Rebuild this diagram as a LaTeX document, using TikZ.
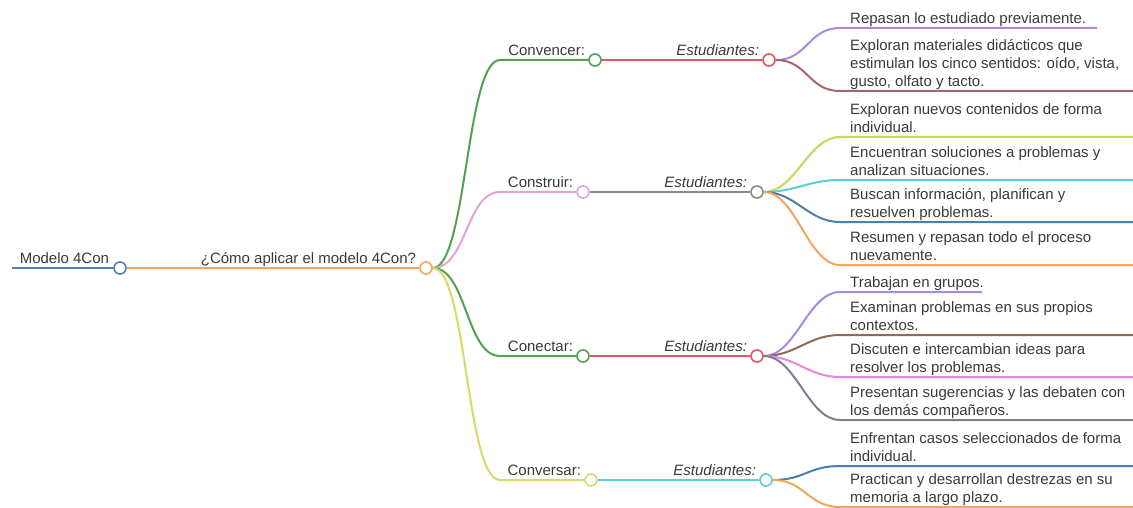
\documentclass[tikz,border=0pt]{standalone}
\usepackage{fontspec}
\setmainfont{Liberation Sans}
\usetikzlibrary{calc}
\definecolor{txt}{HTML}{3A3A3A}
\definecolor{cblue}{HTML}{4F81BD}
\definecolor{corange}{HTML}{F2A55C}
\definecolor{cgreen}{HTML}{52A152}
\definecolor{cpink}{HTML}{E3A2DA}
\definecolor{cyellow}{HTML}{D6DA68}
\definecolor{cred}{HTML}{E0575F}
\definecolor{cgray}{HTML}{8A8A8A}
\definecolor{ccyan}{HTML}{5CCFD6}
\definecolor{cpurple}{HTML}{A98BD9}
\definecolor{cbrown}{HTML}{A5686A}
\definecolor{cygreen}{HTML}{C5D85A}
\definecolor{cblue2}{HTML}{4A7FB0}
\definecolor{cmag}{HTML}{E08AE0}
\definecolor{cbrown2}{HTML}{8F6A5A}
\definecolor{cgray2}{HTML}{7F7F8F}
\tikzset{
  dot/.style={circle, draw=#1, fill=white, minimum size=12pt, inner sep=0pt, line width=1.6pt},
  lbl/.style={font=\fontsize{15}{18}\selectfont, text=txt, inner sep=0pt},
  ilbl/.style={lbl, font=\fontsize{15}{18}\selectfont\itshape},
  leaf/.style={lbl, align=left, anchor=base west},
  conn/.style={line width=2pt, draw=#1},
}
\newcommand{\lk}[4]{% from, to-start, to-end, color
  \draw[conn=#4] (#1.east) .. controls +(32,0) and +(-32,0) .. (#2) -- (#3);}
\begin{document}
\begin{tikzpicture}[x=1pt,y=-1pt]
\useasboundingbox (0,0) rectangle (1133,508);
% root
\coordinate (r0) at (12,268);
\node[dot=cblue] (r) at (120,268) {};
\node[dot=corange] (q) at (426,268) {};
\draw[conn=cblue] (r0) -- (r.west);
\draw[conn=corange] (r.east) -- (q.west);
\node[lbl, anchor=base east] (rt) at ([xshift=-4pt,yshift=4.5pt]r.west) {Modelo 4Con};
\node[lbl, anchor=base east] (qt) at ([xshift=-3pt,yshift=4.5pt]q.west) {¿Cómo aplicar el modelo 4Con?};
% level 2
\node[dot=cgreen] (a) at (595,60) {};
\node[dot=cpink] (b) at (583,192) {};
\node[dot=cgreen] (c) at (583,356) {};
\node[dot=cyellow] (d) at (591,480) {};
\coordinate (as) at (500,60);
\coordinate (bs) at (500,192);
\coordinate (cs) at (500,356);
\coordinate (ds) at (500,480);
\draw[conn=cgreen] (q.east) .. controls +(34,0) and +(-34,0) .. (as) -- (a.west);
\draw[conn=cpink] (q.east) .. controls +(34,0) and +(-34,0) .. (bs) -- (b.west);
\draw[conn=cgreen] (q.east) .. controls +(34,0) and +(-34,0) .. (cs) -- (c.west);
\draw[conn=cyellow] (q.east) .. controls +(34,0) and +(-34,0) .. (ds) -- (d.west);
\node[lbl, anchor=base east] (at) at ([xshift=-3pt,yshift=4.5pt]a.west) {Convencer:};
\node[lbl, anchor=base east] (bt) at ([xshift=-3pt,yshift=4.5pt]b.west) {Construir:};
\node[lbl, anchor=base east] (ct) at ([xshift=-3pt,yshift=4.5pt]c.west) {Conectar:};
\node[lbl, anchor=base east] (dt) at ([xshift=-3pt,yshift=4.5pt]d.west) {Conversar:};
% level 3
\node[dot=cred] (ae) at (769,60) {};
\node[dot=cgray] (be) at (757,192) {};
\node[dot=cred] (ce) at (757,356) {};
\node[dot=ccyan] (de) at (766,480) {};
\draw[conn=cred] (a.east) -- (ae.west);
\draw[conn=cgray] (b.east) -- (be.west);
\draw[conn=cred] (c.east) -- (ce.west);
\draw[conn=ccyan] (d.east) -- (de.west);
\node[ilbl, anchor=base east] (aet) at ([xshift=-3pt,yshift=4.5pt]ae.west) {Estudiantes:};
\node[ilbl, anchor=base east] (bet) at ([xshift=-3pt,yshift=4.5pt]be.west) {Estudiantes:};
\node[ilbl, anchor=base east] (cet) at ([xshift=-3pt,yshift=4.5pt]ce.west) {Estudiantes:};
\node[ilbl, anchor=base east] (det) at ([xshift=-3pt,yshift=4.5pt]de.west) {Estudiantes:};
% leaves: Convencer
\coordinate (a1s) at (840,28); \coordinate (a1e) at (1097,28);
\coordinate (a2s) at (840,91); \coordinate (a2e) at (1133,91);
\lk{ae}{a1s}{a1e}{cpurple}
\lk{ae}{a2s}{a2e}{cbrown}
\node[leaf] (a1) at (850,23.5) {Repasan lo estudiado previamente.};
\node[leaf] (a2) at (850,86.5) {Exploran materiales didácticos que\\estimulan los cinco sentidos: oído, vista,\\gusto, olfato y tacto.};
% leaves: Construir
\coordinate (b1s) at (840,137); \coordinate (b1e) at (1133,137);
\coordinate (b2s) at (840,180); \coordinate (b2e) at (1133,180);
\coordinate (b3s) at (840,222); \coordinate (b3e) at (1133,222);
\coordinate (b4s) at (840,265); \coordinate (b4e) at (1133,265);
\lk{be}{b1s}{b1e}{cygreen}
\lk{be}{b2s}{b2e}{ccyan}
\lk{be}{b3s}{b3e}{cblue2}
\lk{be}{b4s}{b4e}{corange}
\node[leaf] (b1) at (850,132.5) {Exploran nuevos contenidos de forma\\individual.};
\node[leaf] (b2) at (850,175.5) {Encuentran soluciones a problemas y\\analizan situaciones.};
\node[leaf] (b3) at (850,217.5) {Buscan información, planifican y\\resuelven problemas.};
\node[leaf] (b4) at (850,260.5) {Resumen y repasan todo el proceso\\nuevamente.};
% leaves: Conectar
\coordinate (c1s) at (840,292); \coordinate (c1e) at (982,292);
\coordinate (c2s) at (840,335); \coordinate (c2e) at (1133,335);
\coordinate (c3s) at (840,377); \coordinate (c3e) at (1133,377);
\coordinate (c4s) at (840,420); \coordinate (c4e) at (1133,420);
\lk{ce}{c1s}{c1e}{cpurple}
\lk{ce}{c2s}{c2e}{cbrown2}
\lk{ce}{c3s}{c3e}{cmag}
\lk{ce}{c4s}{c4e}{cgray2}
\node[leaf] (c1) at (850,287.5) {Trabajan en grupos.};
\node[leaf] (c2) at (850,330.5) {Examinan problemas en sus propios\\contextos.};
\node[leaf] (c3) at (850,372.5) {Discuten e intercambian ideas para\\resolver los problemas.};
\node[leaf] (c4) at (850,415.5) {Presentan sugerencias y las debaten con\\los demás compañeros.};
% leaves: Conversar
\coordinate (d1s) at (840,466); \coordinate (d1e) at (1133,466);
\coordinate (d2s) at (840,507); \coordinate (d2e) at (1133,507);
\lk{de}{d1s}{d1e}{cblue2}
\lk{de}{d2s}{d2e}{corange}
\node[leaf] (d1) at (850,461.5) {Enfrentan casos seleccionados de forma\\individual.};
\node[leaf] (d2) at (850,502.5) {Practican y desarrollan destrezas en su\\memoria a largo plazo.};
\end{tikzpicture}
\end{document}
